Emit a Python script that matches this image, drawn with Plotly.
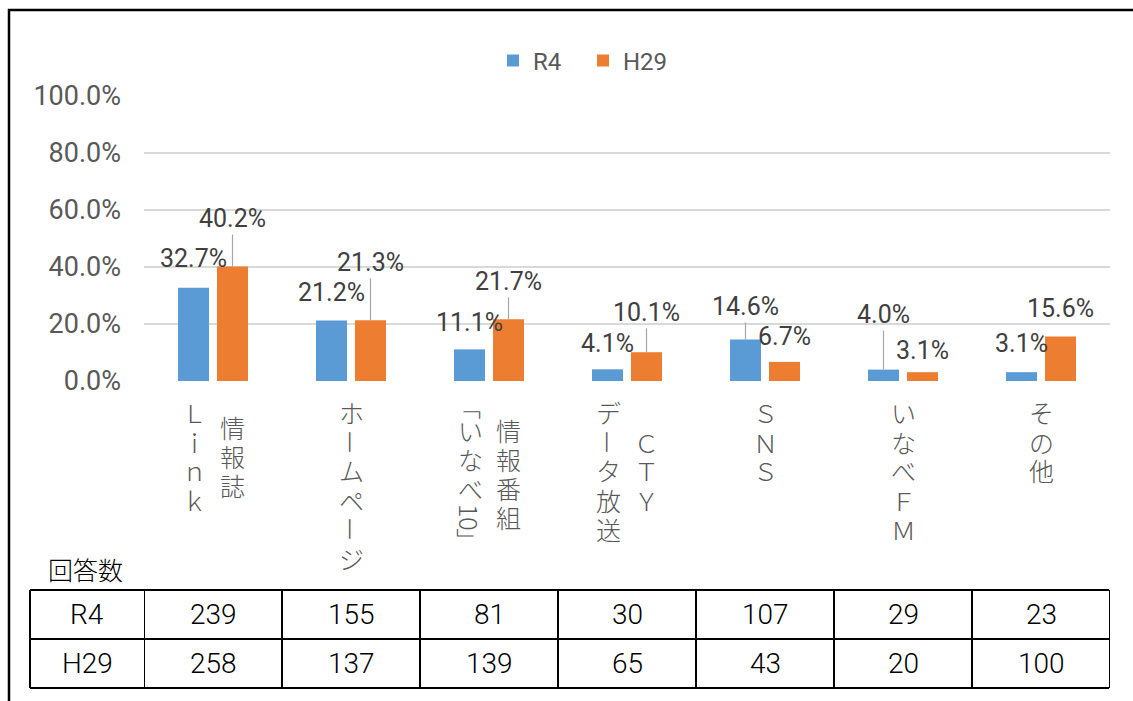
import plotly.graph_objects as go

# Survey results: information sources (percent of respondents), R4 vs H29
category_columns = [
    ["情報誌", "Ｌｉｎｋ"],
    ["ホームページ"],
    ["情報番組", "「いなべ10」"],
    ["ＣＴＹ", "データ放送"],
    ["ＳＮＳ"],
    ["いなべＦＭ"],
    ["その他"],
]
categories = ["".join(cols) for cols in category_columns]
series_names = ["R4", "H29"]
r4_pct = [32.7, 21.2, 11.1, 4.1, 14.6, 4.0, 3.1]
h29_pct = [40.2, 21.3, 21.7, 10.1, 6.7, 3.1, 15.6]
table_title = "回答数"
r4_counts = [239, 155, 81, 30, 107, 29, 23]
h29_counts = [258, 137, 139, 65, 43, 20, 100]
y_ticks = [0, 20, 40, 60, 80, 100]

# label placement: (pixel offset of label centre above bar top, draw leader line)
r4_label_pos = [(-29, False), (-28, False), (-27, False), (-26, False),
                (-33, True), (-55, True), (-29, False)]
h29_label_pos = [(-48, True), (-58, True), (-38, True), (-40, True),
                 (-25, False), (-22, False), (-28, False)]

BLUE = "#5B9BD5"
ORANGE = "#ED7D31"
NUM = "Roboto, Liberation Sans, sans-serif"
CJK = "Noto Sans CJK JP"

W, H = 1133, 701
L, R, T, B = 144, 23, 96, 320
PW, PH = W - L - R, H - T - B


def px_x(px):
    return (px - L) / PW


def px_y(py):
    return (H - B - py) / PH


fig = go.Figure()
fig.add_trace(go.Bar(name=series_names[0], x=categories, y=r4_pct,
                     marker=dict(color=BLUE, line=dict(width=0))))
fig.add_trace(go.Bar(name=series_names[1], x=categories, y=h29_pct,
                     marker=dict(color=ORANGE, line=dict(width=0))))

annotations = []
shapes = []

# data labels with optional leader lines
BAR_OFF = 0.1413
for vals, pos, sgn in ((r4_pct, r4_label_pos, -1), (h29_pct, h29_label_pos, 1)):
    for i, (v, (dy, line)) in enumerate(zip(vals, pos)):
        annotations.append(dict(
            x=i + sgn * BAR_OFF, y=v, xref="x", yref="y",
            text=f"{v:.1f}%", showarrow=True, ax=0, ay=dy,
            arrowhead=0, arrowwidth=1.2, standoff=0,
            arrowcolor="#A6A6A6" if line else "rgba(0,0,0,0)",
            font=dict(family=NUM, size=25, color="#404040"),
        ))


# vertical (tategaki) category labels
def tokens(col):
    out, buf = [], ""
    for ch in col:
        if ch.isascii() and ch.isalnum():
            buf += ch
            continue
        if buf:
            out.append((buf, True))
            buf = ""
        out.append((ch, ch in "ー「」"))
    if buf:
        out.append((buf, True))
    return out


PITCH = 29
BLOCK_TOP = 398


def token_h(txt):
    return PITCH * 0.6 if txt in "「」" else PITCH


for i, cols in enumerate(category_columns):
    toks = [tokens(c) for c in cols]
    heights = [sum(token_h(t) for t, _ in tk) for tk in toks]
    centre = BLOCK_TOP + max(heights) / 2
    n = len(cols)
    for j, tk in enumerate(toks):
        xoff = ((n - 1) / 2 - j) * 38
        y = centre - heights[j] / 2
        for txt, rot in tk:
            h = token_h(txt)
            box = dict(height=int(h) - 1, width=30) if rot else dict(height=PITCH - 1)
            annotations.append(dict(
                x=i, y=px_y(y + h / 2), xref="x", yref="paper",
                xshift=xoff, text=txt, showarrow=False,
                xanchor="center", yanchor="middle", valign="middle",
                textangle=90 if rot else 0,
                font=dict(family=CJK, size=25, color="#595959", weight=300),
                **({} if rot else box),
            ))
            y += h

# response-count table below the chart
TBL_L, TBL_R = 30, 1109
ROWS = [590, 639, 688]
for ry in ROWS:
    shapes.append(dict(type="line", xref="paper", yref="paper",
                       x0=px_x(TBL_L), x1=px_x(TBL_R), y0=px_y(ry), y1=px_y(ry),
                       line=dict(color="black", width=2)))
shapes.append(dict(type="line", xref="paper", yref="paper",
                   x0=px_x(TBL_L), x1=px_x(TBL_L), y0=px_y(ROWS[0]), y1=px_y(ROWS[-1]),
                   line=dict(color="black", width=2)))
for k in range(len(categories) + 1):
    shapes.append(dict(type="line", xref="x", yref="paper",
                       x0=k - 0.5, x1=k - 0.5, y0=px_y(ROWS[0]), y1=px_y(ROWS[-1]),
                       line=dict(color="black", width=2)))

for r, (name, counts) in enumerate(((series_names[0], r4_counts), (series_names[1], h29_counts))):
    cy = px_y((ROWS[r] + ROWS[r + 1]) / 2)
    annotations.append(dict(x=px_x((TBL_L + L) / 2), y=cy, xref="paper", yref="paper",
                            text=name, showarrow=False, xanchor="center", yanchor="middle",
                            font=dict(family=NUM, size=28, color="black", weight=300)))
    for i, c in enumerate(counts):
        annotations.append(dict(x=i, y=cy, xref="x", yref="paper",
                                text=str(c), showarrow=False, xanchor="center", yanchor="middle",
                                font=dict(family=NUM, size=28, color="black", weight=300)))

annotations.append(dict(x=px_x(46), y=px_y(569), xref="paper", yref="paper",
                        text=table_title, showarrow=False, xanchor="left", yanchor="middle",
                        font=dict(family=CJK, size=25, color="black", weight=300)))

# outer frame
shapes.append(dict(type="rect", xref="paper", yref="paper",
                   x0=px_x(9), x1=px_x(W + 20), y0=px_y(10), y1=px_y(H + 20),
                   line=dict(color="black", width=2.5), fillcolor="rgba(0,0,0,0)"))

fig.update_layout(
    width=W, height=H,
    margin=dict(l=L, r=R, t=T, b=B, autoexpand=False),
    paper_bgcolor="white", plot_bgcolor="white",
    barmode="group", bargap=0.435, bargroupgap=0.205,
    showlegend=True,
    legend=dict(orientation="h", x=px_x(493), xanchor="left", y=px_y(61), yanchor="middle",
                font=dict(family=NUM, size=24, color="#595959"),
                entrywidth=45, entrywidthmode="pixels",
                itemclick=False, bgcolor="rgba(0,0,0,0)"),
    annotations=annotations,
    shapes=shapes,
)
fig.update_xaxes(type="category", categoryorder="array", categoryarray=categories,
                 range=[-0.5, len(categories) - 0.5], showticklabels=False,
                 showgrid=False, zeroline=False, showline=False, ticks="")
fig.update_yaxes(range=[0, 100], tickvals=y_ticks, ticktext=[f"{v:.1f}%" for v in y_ticks],
                 showgrid=True, gridcolor="#D9D9D9", gridwidth=2,
                 zeroline=False, showline=False, ticks="", ticklabelstandoff=22,
                 tickfont=dict(family=NUM, size=27, color="#595959"))

fig.write_html("out.html")
